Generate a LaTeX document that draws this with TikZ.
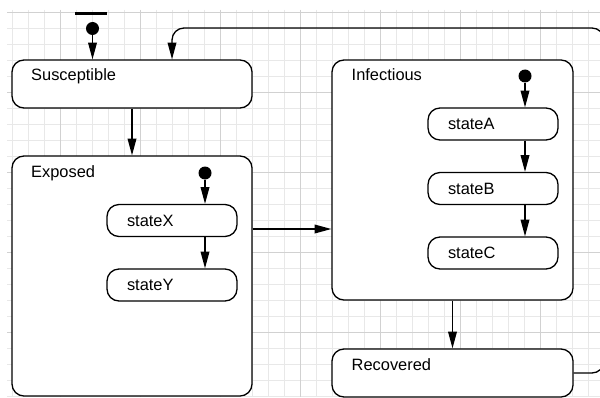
\documentclass[tikz,border=0pt]{standalone}
\usepackage{fontspec}
\setmainfont{Liberation Sans}
\usetikzlibrary{arrows.meta,positioning,calc}

\begin{document}
\begin{tikzpicture}[
  x=0.03cm,y=-0.03cm,
  box/.style={rectangle,draw,fill=white,line width=1.1pt,rounded corners=0.36cm,inner sep=0pt},
  sub/.style={box,minimum width=3.9cm,minimum height=0.96cm,inner xsep=0.6cm,text width=2.7cm,align=left,font=\fontsize{14pt}{16pt}\selectfont},
  ttl/.style={anchor=base west,inner sep=0pt,font=\fontsize{14pt}{16pt}\selectfont},
  init/.style={circle,fill=black,minimum size=0.39cm,inner sep=0pt},
  arr/.style={-{Triangle[length=0.5cm,width=0.26cm]},line width=1.1pt},
  gridln/.style={black!9,line width=0.5pt},
  gridmaj/.style={black!18,line width=0.5pt}
]
  \clip (0,0) rectangle (600,397);
  \fill[white] (0,0) rectangle (600,397);
  % background grid
  \foreach \gx in {12,28,...,596} \draw[gridln] (\gx,10) -- (\gx,397);
  \foreach \gy in {12,28,...,396} \draw[gridln] (7,\gy) -- (600,\gy);
  \foreach \gx in {60,140,...,540} \draw[gridmaj] (\gx,10) -- (\gx,397);
  \foreach \gy in {12,92,...,332} \draw[gridmaj] (7,\gy) -- (600,\gy);

  % top level states
  \node[rectangle,fill=black,minimum width=0.96cm,minimum height=0.09cm,inner sep=0pt] (bar) at (91,14) {};
  \node[init] (dotS) at (92.5,28.5) {};
  \node[box,minimum width=7.2cm,minimum height=1.44cm] (sus) at (132,84) {};
  \node[box,minimum width=7.2cm,minimum height=7.2cm] (exp) at (132,276) {};
  \node[box,minimum width=7.23cm,minimum height=7.2cm] (inf) at (452.5,180) {};
  \node[box,minimum width=7.23cm,minimum height=1.44cm] (rec) at (452.5,373) {};
  \node[ttl] (tSus) at (31,81) {Susceptible};
  \node[ttl] (tExp) at (31,177) {Exposed};
  \node[ttl] (tInf) at (351.5,81) {Infectious};
  \node[ttl] (tRec) at (351.5,370) {Recovered};

  % inner states
  \node[init] (dotE) at (205,173) {};
  \node[sub] (stX) at (172,220.5) {stateX};
  \node[sub] (stY) at (172,285) {stateY};
  \node[init] (dotI) at (525,76) {};
  \node[sub] (stA) at (493,124) {stateA};
  \node[sub] (stB) at (493,188.5) {stateB};
  \node[sub] (stC) at (493,253) {stateC};

  \draw[arr] (dotS) -- (dotS |- sus.north);
  \draw[arr] (sus) -- (exp);
  \draw[arr] (dotE) -- (dotE |- stX.north);
  \draw[arr] (stX.south -| dotE) -- (stY.north -| dotE);
  \draw[arr] (exp.east |- 0,229) -- (inf.west |- 0,229);
  \draw[arr] (dotI) -- (dotI |- stA.north);
  \draw[arr] (stA.south -| dotI) -- (stB.north -| dotI);
  \draw[arr] (stB.south -| dotI) -- (stC.north -| dotI);
  \draw[arr] (inf) -- (rec);
  \draw[arr,rounded corners=0.36cm] (rec.east) -| (604,28) -| ([xshift=1.2cm]sus.north);
\end{tikzpicture}
\end{document}
